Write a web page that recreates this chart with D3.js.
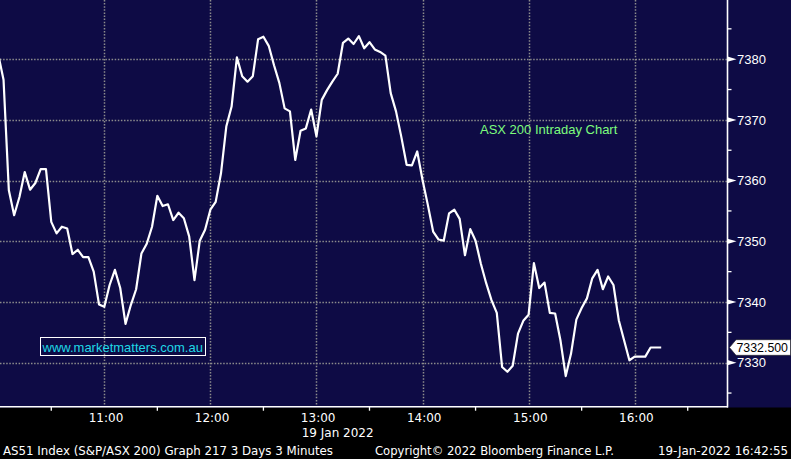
<!DOCTYPE html>
<html><head><meta charset="utf-8">
<script src="https://cdn.jsdelivr.net/npm/d3@7/dist/d3.min.js"></script>
<style>html,body{margin:0;padding:0;background:#000;}svg{display:block;}</style>
</head><body>
<script>
// ---- data ----
const sessionDate = "2022-01-19";
const firstBarTime = "10:00";
const barMinutes = 3;
const prices = [
7380.8,7376.6,7358.4,7354.3,7357.3,7361.4,7358.5,7359.6,7361.9,7361.9,
7353.2,7351.3,7352.4,7352.1,7347.9,7348.6,7347.4,7347.4,7345.0,7339.6,
7339.2,7342.8,7345.3,7342.3,7336.4,7339.5,7342.1,7348.0,7349.6,7352.4,
7357.5,7355.8,7356.1,7353.5,7354.7,7353.8,7350.8,7343.6,7350.1,7351.9,
7355.2,7356.5,7361.2,7368.9,7372.2,7380.3,7377.2,7376.3,7377.2,7383.3,
7383.7,7382.2,7379.0,7376.1,7371.9,7371.4,7363.4,7368.2,7368.6,7371.7,
7367.3,7373.3,7374.9,7376.3,7377.6,7382.7,7383.4,7382.5,7383.8,7381.8,
7382.8,7381.6,7381.2,7380.6,7374.4,7371.4,7367.2,7362.6,7362.5,7364.8,
7360.1,7356.0,7351.6,7350.3,7350.1,7354.6,7355.2,7353.7,7347.7,7352.0,
7350.1,7346.3,7343.1,7340.3,7338.2,7329.3,7328.5,7329.5,7334.8,7336.9,
7337.9,7346.4,7342.3,7343.2,7338.2,7338.1,7333.7,7327.8,7331.5,7337.1,
7339.0,7340.6,7343.9,7345.3,7342.1,7344.2,7342.8,7337.0,7333.7,7330.4,
7331.0,7331.0,7331.0,7332.5,7332.5,7332.5
];
const lastPrice = 7332.5;
const yMajorTicks = [7330,7340,7350,7360,7370,7380];
const yMinorTicks = [7325,7335,7345,7355,7365,7375,7385,7390];
const xHourTicks = ["11:00","12:00","13:00","14:00","15:00","16:00"];
const xHalfTicks = ["10:30","11:30","12:30","13:30","14:30","15:30","16:30"];
const yDomain = [7322.75, 7389.75];
const xDomain = ["10:01:00","16:52:30"];
const titleText = "ASX 200 Intraday Chart";
const watermark = "www.marketmatters.com.au";
const dateLabel = "19 Jan 2022";
const footerLeft = "AS51 Index (S&P/ASX 200) Graph 217 3 Days 3 Minutes";
const footerMid = "Copyright\u00A9 2022 Bloomberg Finance L.P.";
const footerRight = "19-Jan-2022 16:42:55";

// ---- layout ----
const W = 791, H = 459;
const plotR = 727.5, plotB = 406.7;
const navy = "#0e0b45", grid = "#8c8c8c";
const parse = d3.timeParse("%Y-%m-%d %H:%M:%S");
const parseHM = d3.timeParse("%Y-%m-%d %H:%M");
const t0 = parseHM(sessionDate + " " + firstBarTime);
const data = prices.map((v, i) => ({t: d3.timeMinute.offset(t0, i * barMinutes), v}));

const x = d3.scaleTime()
  .domain(xDomain.map(s => parse(sessionDate + " " + s)))
  .range([0, plotR]);
const y = d3.scaleLinear().domain(yDomain).range([plotB, 0]);

const svg = d3.select("body").append("svg").attr("width", W).attr("height", H);
svg.append("rect").attr("width", W).attr("height", H).attr("fill", "#000");
svg.append("rect").attr("width", W).attr("height", plotB + 0.8).attr("fill", navy);

svg.append("defs").append("clipPath").attr("id", "clip")
  .append("rect").attr("x", 0).attr("y", 0).attr("width", plotR).attr("height", plotB);

// grid
const g = svg.append("g");
g.selectAll("line.hg").data(yMajorTicks).join("line")
  .attr("x1", 0).attr("x2", plotR)
  .attr("y1", d => Math.round(y(d)) + 0.5).attr("y2", d => Math.round(y(d)) + 0.5)
  .attr("stroke", grid).attr("stroke-width", 1.5).attr("stroke-dasharray", "1.5,1.6");
g.selectAll("line.vg").data(xHourTicks).join("line")
  .attr("x1", d => Math.round(x(parseHM(sessionDate + " " + d))) + 0.5)
  .attr("x2", d => Math.round(x(parseHM(sessionDate + " " + d))) + 0.5)
  .attr("y1", 0).attr("y2", plotB)
  .attr("stroke", grid).attr("stroke-width", 1.5).attr("stroke-dasharray", "1.5,1.6");

// title & watermark
svg.append("text").attr("x", 480).attr("y", 133.5).text(titleText)
  .attr("font-family", "Liberation Sans, Arial, sans-serif").attr("font-size", 13)
  .attr("fill", "#7dfc7d");
svg.append("rect").attr("x", 40.5).attr("y", 337.5).attr("width", 165).attr("height", 18)
  .attr("fill", "none").attr("stroke", "#fff").attr("stroke-width", 1);
svg.append("text").attr("x", 42.5).attr("y", 351.5).text(watermark)
  .attr("font-family", "Liberation Sans, Arial, sans-serif").attr("font-size", 13)
  .attr("fill", "#1fd8e6");

// price line
const line = d3.line().x(d => x(d.t)).y(d => y(d.v));
svg.append("path").datum(data).attr("clip-path", "url(#clip)")
  .attr("d", line).attr("fill", "none").attr("stroke", "#fff")
  .attr("stroke-width", 2.2).attr("stroke-linejoin", "round");

// axes lines
svg.append("line").attr("x1", 0).attr("x2", plotR + 0.5).attr("y1", plotB).attr("y2", plotB)
  .attr("stroke", "#fff").attr("stroke-width", 1.6);
svg.append("line").attr("x1", plotR).attr("x2", plotR).attr("y1", 0).attr("y2", plotB + 0.8)
  .attr("stroke", "#fff").attr("stroke-width", 1.6);

// right axis minor ticks
svg.selectAll("line.ym").data(yMinorTicks).join("line")
  .attr("x1", plotR).attr("x2", plotR + 4)
  .attr("y1", d => y(d)).attr("y2", d => y(d))
  .attr("stroke", "#fff").attr("stroke-width", 1.3);
// right axis major ticks (triangles) + labels
svg.selectAll("path.ytri").data(yMajorTicks).join("path")
  .attr("d", d => `M${plotR},${y(d) - 2.6}L${plotR + 9},${y(d)}L${plotR},${y(d) + 2.6}Z`)
  .attr("fill", "#fff");
svg.selectAll("text.yl").data(yMajorTicks).join("text")
  .attr("x", 737).attr("y", d => y(d) + 4.8).text(d => d)
  .attr("font-family", "Liberation Sans, Arial, sans-serif").attr("font-size", 13)
  .attr("fill", "#fff");

// last price tag
const ly = y(lastPrice);
svg.append("path")
  .attr("d", `M729.5,${ly}L736,${ly - 7.8}L790.5,${ly - 7.8}L790.5,${ly + 7.8}L736,${ly + 7.8}Z`)
  .attr("fill", "#fff").attr("stroke", "#222").attr("stroke-width", 0.6);
svg.append("text").attr("x", 736.5).attr("y", ly + 4.8).text(d3.format(".3f")(lastPrice))
  .attr("textLength", 51.5).attr("lengthAdjust", "spacingAndGlyphs")
  .attr("font-family", "Liberation Sans, Arial, sans-serif").attr("font-size", 13)
  .attr("fill", "#000");

// bottom axis ticks & labels
svg.selectAll("line.xh").data(xHalfTicks).join("line")
  .attr("x1", d => x(parseHM(sessionDate + " " + d))).attr("x2", d => x(parseHM(sessionDate + " " + d)))
  .attr("y1", plotB).attr("y2", plotB + 4).attr("stroke", "#fff").attr("stroke-width", 1.3);
svg.selectAll("text.xl").data(xHourTicks).join("text")
  .attr("x", d => x(parseHM(sessionDate + " " + d)) + 1.7).attr("y", 421.7)
  .attr("text-anchor", "middle").text(d => d)
  .attr("font-family", "DejaVu Sans, Verdana, sans-serif").attr("font-size", 12)
  .attr("fill", "#fff");
svg.append("text").attr("x", 301.7).attr("y", 437.3).text(dateLabel)
  .attr("font-family", "DejaVu Sans, Verdana, sans-serif").attr("font-size", 12)
  .attr("fill", "#fff");

// footer
const foot = [[footerLeft, 3, 330], [footerMid, 375, 239], [footerRight, 658, 130]];
svg.selectAll("text.ft").data(foot).join("text")
  .attr("x", d => d[1]).attr("y", 454.5).text(d => d[0])
  .attr("textLength", d => d[2]).attr("lengthAdjust", "spacingAndGlyphs")
  .attr("font-family", "DejaVu Sans, Verdana, sans-serif").attr("font-size", 12)
  .attr("fill", "#fff");
</script>
</body></html>
